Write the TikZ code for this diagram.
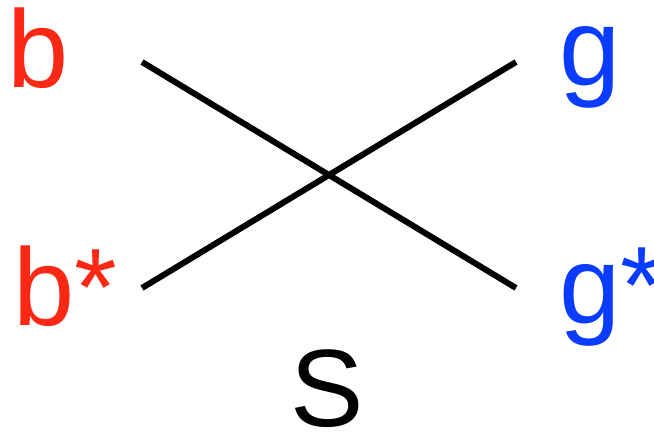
\documentclass[tikz,border=0pt]{standalone}
\usepackage{fontspec}
\setmainfont{Liberation Sans}
\definecolor{lblred}{RGB}{250,40,20}
\definecolor{lblblue}{RGB}{10,60,255}
\begin{document}
\begin{tikzpicture}[x=1pt,y=-1pt,
  lbl/.style={inner sep=0pt,outer sep=0pt,font=\fontsize{110}{110}\selectfont},
  leg/.style={line width=6pt,line cap=butt}]
\useasboundingbox (0,0) rectangle (654,441);
\node[lbl,text=lblred,anchor=base west] (b) at (7,88) {b};
\node[lbl,text=lblred,anchor=base west] (bs) at (13,325) {b*};
\node[lbl,text=lblblue,anchor=base west] (g) at (559,86) {g};
\node[lbl,text=lblblue,anchor=base west] (gs) at (559,323) {g*};
\node[lbl,anchor=base] (S) at (327.5,426) {S};
\coordinate (p1) at (142,62);
\coordinate (p2) at (516,288);
\coordinate (p3) at (142,288);
\coordinate (p4) at (516,62);
\draw[leg] (p1) -- (p2);
\draw[leg] (p3) -- (p4);
\end{tikzpicture}
\end{document}
